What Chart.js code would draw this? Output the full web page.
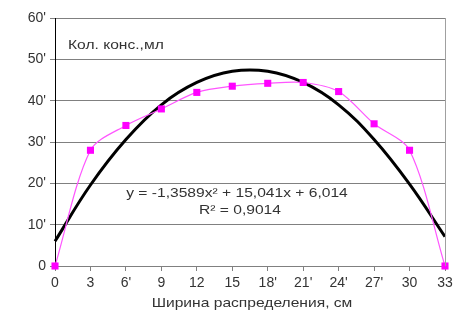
<!DOCTYPE html>
<html>
<head>
<meta charset="utf-8">
<script src="https://cdn.jsdelivr.net/npm/chart.js@4"></script>
<style>
  html, body { margin: 0; padding: 0; background: #fff; }
  #wrap { width: 457px; height: 325px; }
</style>
</head>
<body>
<div id="wrap"><canvas id="chart" width="457" height="325"></canvas></div>
<script>
// values
var widths = [0, 3, 6, 9, 12, 15, 18, 21, 24, 27, 30, 33];
var conc = [0, 28, 34, 38, 42, 43.5, 44.2, 44.4, 42.2, 34.4, 28, 0];
var trend = [6, 19.6, 30.6, 39, 44.4, 47.1, 47.1, 44.4, 39, 30.6, 19.8, 7.1];
var xTickText = ['0', '3', "6'", '9', '12', '15', "18'", "21'", "24'", "27'", '30', '33'];
var yTickText = { 0: '0', 10: "10'", 20: "20'", 30: "30'", 40: "40'", 50: "50'", 60: "60'" };

var yTitle = 'Кол. конс.,мл';
var xTitle = 'Ширина распределения, см';
var eqText = 'y = -1,3589x\u00B2 + 15,041x + 6,014';
var r2Text = 'R\u00B2 = 0,9014';

var fontFam = '"Liberation Sans", Arial, sans-serif';

function pts(ys) {
    return widths.map(function (w, i) { return { x: w, y: ys[i] }; });
}

// the picture is a bit stretched sideways, so text is drawn wider
function wideText(ctx, txt, x, y, align) {
    ctx.save();
    ctx.translate(x, y);
    ctx.scale(1.2, 1);
    ctx.textAlign = align;
    ctx.fillText(txt, 0, 0);
    ctx.restore();
}

var labelsPlugin = {
    id: 'labels',
    afterDraw: function (chart) {
        var ctx = chart.ctx, a = chart.chartArea;
        ctx.save();
        // right border of plot area
        ctx.strokeStyle = '#a0a0a0';
        ctx.lineWidth = 1;
        ctx.beginPath();
        ctx.moveTo(a.right + 0.5, a.top);
        ctx.lineTo(a.right + 0.5, a.bottom);
        ctx.stroke();

        ctx.fillStyle = '#333';
        ctx.font = '13px ' + fontFam;
        ctx.textBaseline = 'middle';
        wideText(ctx, yTitle, 68, 45, 'left');
        wideText(ctx, eqText, 237, 193, 'center');
        wideText(ctx, r2Text, 240, 210, 'center');
        wideText(ctx, xTitle, 252, 303, 'center');
        ctx.restore();
    }
};

new Chart(document.getElementById('chart'), {
    type: 'line',
    data: {
        datasets: [{
            label: 'conc',
            data: pts(conc),
            borderColor: '#ff55ff',
            borderWidth: 1.2,
            backgroundColor: '#ff00ff',
            pointStyle: 'rect',
            pointRadius: 5,
            pointBorderWidth: 0,
            tension: 0.3,
            order: 1
        }, {
            label: 'trend',
            data: pts(trend),
            borderColor: '#000',
            borderWidth: 3,
            pointRadius: 0,
            tension: 0.4,
            order: 2
        }]
    },
    options: {
        responsive: false,
        animation: false,
        clip: false,
        layout: { padding: { top: 18, right: 12, left: 0, bottom: 0 } },
        plugins: { legend: { display: false }, tooltip: { enabled: false } },
        scales: {
            x: {
                type: 'linear',
                min: 0,
                max: 33,
                afterBuildTicks: function (scale) {
                    scale.ticks = widths.map(function (w) { return { value: w }; });
                },
                afterFit: function (scale) { scale.height = 59; },
                ticks: {
                    autoSkip: false,
                    maxRotation: 0,
                    color: '#333',
                    font: { family: fontFam, size: 14 },
                    padding: 4,
                    callback: function (v, i) { return xTickText[i]; }
                },
                grid: { drawOnChartArea: false, color: '#808080', tickLength: 5 },
                border: { color: '#808080' }
            },
            y: {
                min: 0,
                max: 60,
                afterFit: function (scale) { scale.width = 55; },
                ticks: {
                    stepSize: 10,
                    color: '#333',
                    font: { family: fontFam, size: 14 },
                    padding: 4,
                    callback: function (v) { return yTickText[v]; }
                },
                grid: { color: '#808080', tickLength: 5 },
                border: { color: '#000' }
            }
        }
    },
    plugins: [labelsPlugin]
});
</script>
</body>
</html>
